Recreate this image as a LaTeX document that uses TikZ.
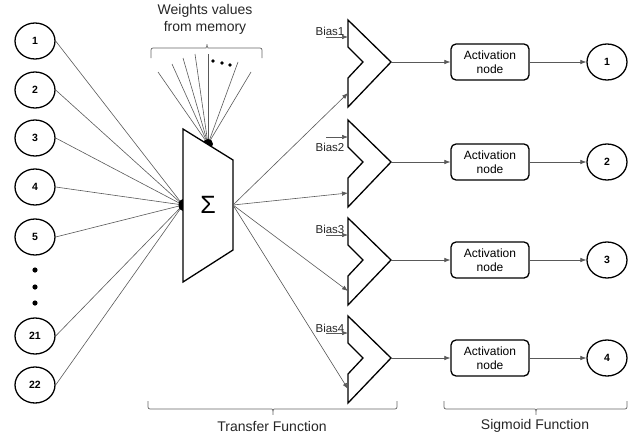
\documentclass[tikz,border=0pt]{standalone}
\usepackage{fontspec}
\setmainfont{Liberation Sans}
\usepackage{tikz}
\usetikzlibrary{shapes.geometric, arrows.meta, positioning}

\begin{document}
\begin{tikzpicture}[x=1pt, y=-1pt]
\tikzstyle{unit} = [ellipse, minimum width=40pt, minimum height=36pt, inner sep=0pt, draw=black, line width=1.3pt, font=\bfseries\fontsize{10.5}{10.5}\selectfont]
\tikzstyle{activ} = [rectangle, minimum width=78pt, minimum height=36pt, inner sep=0pt, align=center, draw=black, line width=1.3pt, rounded corners=5pt, font=\fontsize{12}{14}\selectfont]
\tikzstyle{wire} = [draw=black!65, line width=0.6pt]
\tikzstyle{arrow} = [wire, -{Latex[length=6pt,width=4.5pt]}]
\tikzstyle{bracket} = [draw=black!60, line width=0.7pt, rounded corners=2pt]
\tikzstyle{label} = [font=\fontsize{14}{17}\selectfont, text=black!85, align=center]
\tikzstyle{biastext} = [font=\fontsize{11.5}{12}\selectfont, text=black!85, inner sep=0pt]
\tikzset{adder/.pic={
  \draw[line width=1.3pt, fill=white, line join=miter]
    (0,-42) -- (43,0) -- (0,45) -- (0,16) -- (15,0) -- (0,-15) -- cycle;
  \coordinate (-tip) at (43,0);
  \coordinate (-bias) at (0,-25);
  \coordinate (-in) at (0,31);
}}
\useasboundingbox (0,0) rectangle (639,439);

% input units
\foreach \n/\y in {1/41, 2/90, 3/138, 4/187, 5/237, 21/336, 22/385}
  \node (in\n) [unit] at (35,\y) {\n};
\foreach \y in {270, 287, 303}
  \fill (35,\y) circle (2.6pt);

% summation block
\coordinate (sumin) at (183,205);
\coordinate (sumtop) at (208,144);
\coordinate (sumout) at (233,205);
\foreach \n in {1,2,3,4,5,21,22}
  \draw [wire] (in\n.east) -- (sumin);

% weights from memory
\foreach \x/\y [count=\k] in {158/72, 172/64, 183/58, 195/54, 208/54, 238/62, 251/72}
{
  \coordinate (w\k) at (\x,\y);
  \draw [wire] (w\k) -- (sumtop);
}
\foreach \x/\y in {213/61, 222/63, 230/65}
  \fill (\x,\y) circle (1.9pt);
\node (weights) [label] at (205,19) {Weights values\\from memory};
\draw [bracket] (151,58) |- (204,48) to[out=0,in=-90] (207,43) to[out=-90,in=180] (210,48) -| (262,58);

\fill (sumin) ellipse (4.5pt and 6pt);
\fill (sumtop) circle (5pt);
\draw [line width=1.3pt, fill=white, line join=miter] (183,129) -- (233,160) -- (233,250) -- (183,282) -- cycle;
\node (sigma) at (208,205) {\fontsize{25}{25}\selectfont Σ};

% adders, activation and outputs
\foreach \i/\c/\by in {1/62/31, 2/162/147, 3/260/229, 4/358/328}
{
  \pic (add\i) at (348,\c) {adder};
  \node (bias\i) [biastext] at (330,\by) {Bias\i};
  \coordinate (bs\i) at (326,\c-25);
  \draw [arrow] (bs\i) -- (add\i-bias);
  \draw [arrow] (sumout) -- (add\i-in);
  \node (act\i) [activ] at (490,\c) {Activation\\node};
  \node (out\i) [unit] at (607,\c) {\i};
  \draw [arrow] (add\i-tip) -- (act\i);
  \draw [arrow] (act\i) -- (out\i);
}

% function brackets
\draw [bracket] (148,401) |- (270,409) to[out=0,in=90] (273,416) to[out=90,in=180] (276,409) -| (397,401);
\node (transfer) [label] at (272,426) {Transfer Function};
\draw [bracket] (444,401) |- (533,409) to[out=0,in=90] (536,416) to[out=90,in=180] (539,409) -| (627,401);
\node (sigmoid) [label] at (535,426) {Sigmoid Function};
\end{tikzpicture}
\end{document}
